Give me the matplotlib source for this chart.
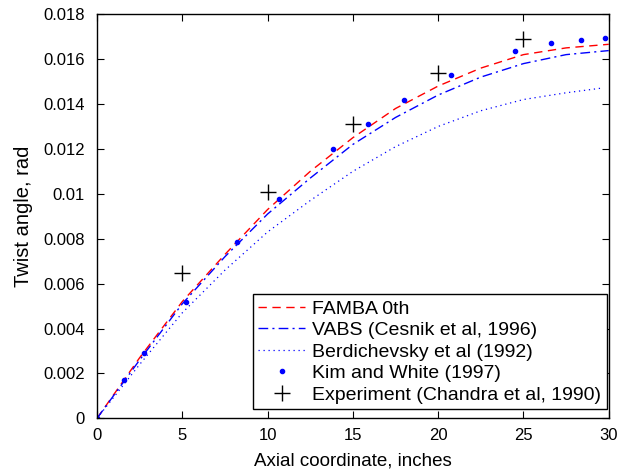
import matplotlib
matplotlib.use("Agg")
import matplotlib.pyplot as plt
from matplotlib.ticker import FuncFormatter

plt.rcParams['font.family'] = ['Liberation Sans', 'DejaVu Sans']

# Curves (axial coordinate in inches, twist angle in rad)
x_curve = [0, 2.5, 5, 7.5, 10, 12.5, 15, 17.5, 20, 22.5, 25, 27.5, 30]
famba = [0, 0.0027, 0.0052, 0.0073, 0.0093, 0.0110, 0.0125, 0.0138, 0.0148, 0.0156, 0.0162, 0.0165, 0.01666]
vabs = [0, 0.0026, 0.0051, 0.0072, 0.0091, 0.0107, 0.0122, 0.0134, 0.0144, 0.0152, 0.0158, 0.0162, 0.01638]

x_berd = [0, 2.5, 5, 7.5, 10, 12.5, 15, 17.5, 20, 22.5, 25, 27.5, 29.5]
berd = [0, 0.0024, 0.0047, 0.0066, 0.0083, 0.0097, 0.0110, 0.0121, 0.0130, 0.0137, 0.0142, 0.0145, 0.0147]

# Kim and White (1997) points
x_kim = [0, 1.58, 2.77, 5.22, 8.19, 10.64, 13.84, 15.89, 18.0, 20.73, 24.52, 26.63, 28.35, 29.81]
y_kim = [0, 0.00170, 0.00290, 0.00518, 0.00785, 0.00975, 0.01200, 0.01313, 0.01418, 0.01528, 0.01637, 0.01671, 0.01686, 0.01693]

# Experiment (Chandra et al, 1990)
x_exp = [5, 10, 15, 20, 25]
y_exp = [0.00648, 0.01008, 0.01312, 0.01537, 0.01688]

xticks = [0, 5, 10, 15, 20, 25, 30]
yticks = [0, 0.002, 0.004, 0.006, 0.008, 0.01, 0.012, 0.014, 0.016, 0.018]

fig = plt.figure(figsize=(6.18, 4.74), dpi=100)
ax = fig.add_axes([0.157, 0.1175, 0.828, 0.8525])

ax.plot(x_curve, famba, color='red', linestyle=(0, (6, 4)), lw=1.0, label='FAMBA 0th')
ax.plot(x_curve, vabs, color='blue', linestyle=(0, (7, 3, 1.5, 3)), lw=1.0, label='VABS (Cesnik et al, 1996)')
ax.plot(x_berd, berd, color='blue', linestyle=(0, (1, 3)), lw=0.9, label='Berdichevsky et al (1992)')
ax.plot(x_kim, y_kim, linestyle='none', marker='.', color='blue', markersize=6, label='Kim and White (1997)')
ax.plot(x_exp, y_exp, linestyle='none', marker='+', color='black', markersize=11, markeredgewidth=1.0,
        label='Experiment (Chandra et al, 1990)')

ax.set_xlim(0, 30)
ax.set_ylim(0, 0.018)
ax.set_xticks(xticks)
ax.set_yticks(yticks)
ax.yaxis.set_major_formatter(FuncFormatter(lambda v, p: '0' if v == 0 else ('%.3f' % v).rstrip('0')))
ax.tick_params(direction='in', top=True, right=True, length=5, width=0.8, labelsize=12)
ax.tick_params(axis='x', pad=7)
ax.tick_params(axis='y', pad=9)
for s in ax.spines.values():
    s.set_linewidth(1.0)

ax.set_xlabel('Axial coordinate, inches', fontsize=13.5, labelpad=7)
ax.set_ylabel('Twist angle, rad', fontsize=14.5, labelpad=7)

leg = ax.legend(loc='lower right', bbox_to_anchor=(0.996, 0.022), borderaxespad=0,
                fontsize=14, frameon=True, fancybox=False, handlelength=2.4,
                labelspacing=0.2, borderpad=0.3, handletextpad=0.35)
leg.get_frame().set_edgecolor('black')
leg.get_frame().set_linewidth(1.0)
leg.get_frame().set_alpha(1)

fig.savefig('out.png', dpi=100)
